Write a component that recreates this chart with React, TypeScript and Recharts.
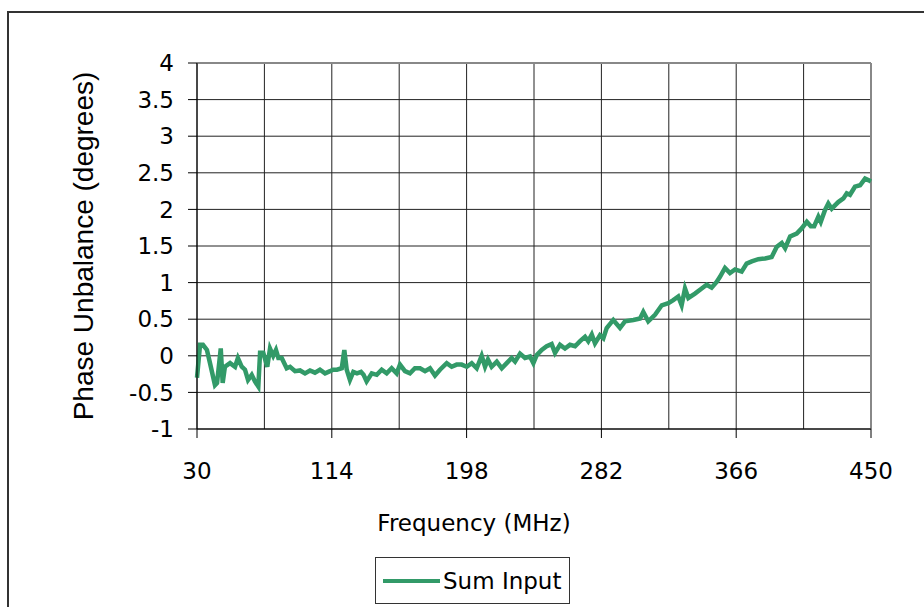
import { LineChart, Line, XAxis, YAxis, CartesianGrid, ReferenceLine } from "recharts";

// frequency (MHz) / phase unbalance (degrees)
const freqMHz = [
  30, 31.9, 33.7, 36.2, 38.1, 41.2, 42.5, 44.8, 46.0, 47.4, 50.6, 53.7, 55.5, 57.9, 59.9,
  61.8, 64.1, 66.1, 68.2, 69.3, 71.3, 73.8, 75.5, 77.5, 79.2, 80.7, 82.8, 85.9, 88.0, 91.1,
  94.2, 97.3, 100.4, 103.5, 106.6, 109.8, 112.9, 114.7, 117.2, 120.2, 121.8, 123.3, 125.3,
  127.4, 129.7, 132.2, 133.8, 135.7, 138.9, 142.0, 145.1, 148.2, 151.3, 154.4, 156.5, 159.6,
  162.7, 165.8, 169.0, 172.1, 175.2, 178.3, 181.4, 185.6, 188.7, 191.8, 194.9, 198.1, 201.2,
  204.3, 207.4, 209.5, 211.3, 213.6, 216.8, 219.9, 223.0, 226.1, 228.2, 231.3, 234.4, 237.5,
  239.6, 241.7, 244.8, 247.9, 251.0, 253.1, 256.2, 259.3, 262.4, 265.6, 268.7, 271.8, 273.8,
  276.0, 278.0, 281.1, 283.2, 285.3, 289.4, 293.6, 296.7, 301.9, 306.1, 308.1, 311.2, 315.4,
  319.6, 323.7, 326.8, 329.9, 332.0, 334.1, 336.2, 340.3, 344.5, 347.6, 350.7, 353.8, 355.9,
  359.0, 362.1, 365.3, 369.4, 372.5, 375.7, 379.8, 384.0, 388.1, 391.3, 394.4, 396.5, 399.6,
  403.7, 406.8, 410.0, 412.5, 414.6, 417.2, 418.7, 421.3, 423.4, 425.5, 429.6, 432.8, 434.9,
  436.9, 440.0, 443.2, 446.3, 448.3, 450,
];
const phaseDeg = [
  -0.3, 0.15, 0.15, 0.08, -0.1, -0.4, -0.37, 0.1, -0.37, -0.15, -0.1, -0.15, -0.03, -0.15, -0.19,
  -0.33, -0.26, -0.35, -0.42, 0.04, 0.04, -0.15, 0.1, 0.0, 0.08, -0.03, -0.03, -0.17, -0.15, -0.21,
  -0.2, -0.24, -0.2, -0.23, -0.19, -0.24, -0.21, -0.19, -0.19, -0.17, 0.08, -0.19, -0.33,
  -0.22, -0.24, -0.22, -0.26, -0.35, -0.24, -0.26, -0.19, -0.24, -0.17, -0.24, -0.12, -0.21,
  -0.24, -0.17, -0.17, -0.21, -0.17, -0.27, -0.19, -0.1, -0.15, -0.12, -0.12, -0.15, -0.1,
  -0.17, 0.0, -0.15, -0.05, -0.15, -0.08, -0.17, -0.1, -0.03, -0.08, 0.03, -0.03, -0.01,
  -0.1, 0.01, 0.08, 0.13, 0.16, 0.04, 0.15, 0.1, 0.15, 0.13, 0.2, 0.26, 0.2,
  0.29, 0.17, 0.28, 0.24, 0.38, 0.49, 0.38, 0.47, 0.49, 0.51, 0.6, 0.47, 0.56,
  0.69, 0.72, 0.76, 0.81, 0.69, 0.92, 0.79, 0.85, 0.92, 0.97, 0.93, 1.01, 1.08,
  1.2, 1.13, 1.18, 1.15, 1.26, 1.29, 1.32, 1.33, 1.35, 1.49, 1.54, 1.47, 1.63,
  1.67, 1.74, 1.83, 1.77, 1.77, 1.9, 1.83, 1.99, 2.08, 2.01, 2.1, 2.15, 2.22,
  2.2, 2.31, 2.33, 2.42, 2.4, 2.38,
];

const xTicks = [30, 114, 198, 282, 366, 450];
const xMinorGrid = [72, 156, 240, 324, 408];
const yTicks = [-1, -0.5, 0, 0.5, 1, 1.5, 2, 2.5, 3, 3.5, 4];

const data = freqMHz.map((f, i) => ({ freq: f, phase: phaseDeg[i] }));

const FONT = '"DejaVu Sans", sans-serif';
const LABEL_FONT = '"Liberation Sans", Arial, sans-serif';
const GREEN = "#329a68";
const GRID = "#222";

export default function App() {
  return (
    <div
      style={{
        position: "absolute",
        left: 0,
        top: 0,
        width: 924,
        height: 607,
        overflow: "hidden",
        background: "#fff",
        fontFamily: FONT,
      }}
    >
      {/* outer chart-area frame, runs off the page right and bottom */}
      <div
        style={{
          position: "absolute",
          left: 7,
          top: 11,
          width: 1000,
          height: 1000,
          border: "2px solid #333",
        }}
      />
      <div style={{ position: "absolute", left: 0, top: 0 }}>
        <LineChart
          width={924}
          height={607}
          data={data}
          margin={{ top: 63, right: 53, left: 60, bottom: 138 }}
        >
          <CartesianGrid stroke={GRID} strokeWidth={1} />
          {xMinorGrid.map((v) => (
            <ReferenceLine key={v} x={v} stroke={GRID} strokeWidth={1} />
          ))}
          <ReferenceLine y={4} stroke="#888" strokeWidth={2} />
          <ReferenceLine x={450} stroke="#888" strokeWidth={2} />
          <XAxis
            dataKey="freq"
            type="number"
            domain={[30, 450]}
            ticks={xTicks}
            height={40}
            tickSize={9}
            tickMargin={25}
            stroke="#000"
            tick={{ fill: "#000", fontSize: 23, fontFamily: FONT }}
            label={{
              value: "Frequency (MHz)",
              position: "bottom",
              offset: 46,
              dx: -60,
              style: { fill: "#000", fontSize: 23, fontFamily: FONT },
            }}
          />
          <YAxis
            type="number"
            domain={[-1, 4]}
            ticks={yTicks}
            width={137}
            tickSize={9}
            tickMargin={14}
            stroke="#000"
            tick={{ fill: "#000", fontSize: 23, fontFamily: FONT }}
            label={{
              value: "Phase Unbalance (degrees)",
              angle: -90,
              position: "insideLeft",
              offset: 23,
              style: { fill: "#000", fontSize: 28, fontFamily: LABEL_FONT, textAnchor: "middle" },
            }}
          />
          <Line
            type="linear"
            dataKey="phase"
            stroke={GREEN}
            strokeWidth={4.5}
            dot={false}
            isAnimationActive={false}
          />
        </LineChart>
      </div>
      {/* legend */}
      <div
        style={{
          position: "absolute",
          left: 375,
          top: 557,
          width: 193,
          height: 45,
          border: "1.5px solid #333",
          display: "flex",
          alignItems: "center",
          background: "#fff",
        }}
      >
        <div style={{ width: 57, height: 4, background: GREEN, marginLeft: 7, marginRight: 3 }} />
        <span style={{ fontSize: 23, color: "#000" }}>Sum Input</span>
      </div>
    </div>
  );
}
